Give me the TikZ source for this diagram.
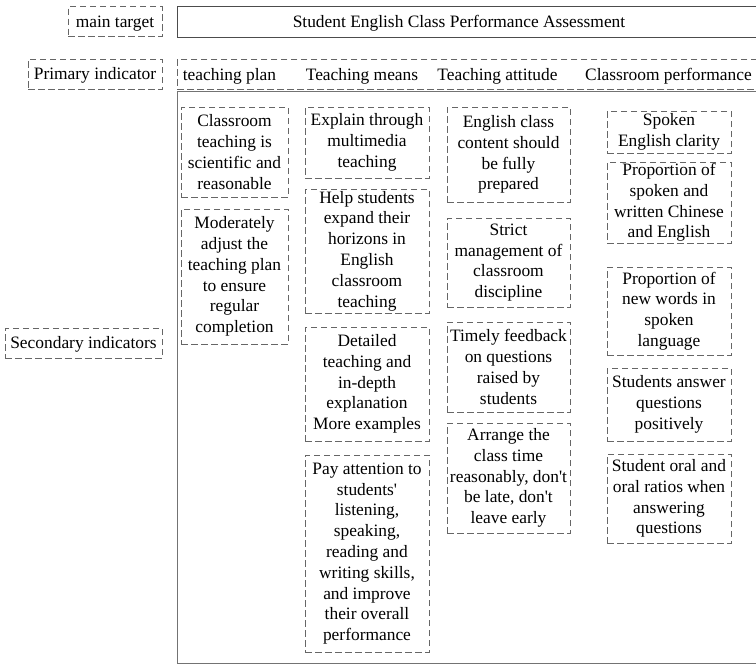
\documentclass[tikz,border=0pt]{standalone}
\usepackage{fontspec}
\setmainfont{Liberation Serif}

\begin{document}
\begin{tikzpicture}[
    x=1pt, y=-1pt,
    every node/.style={font=\fontsize{17.4}{20.8}\selectfont, inner sep=0pt, align=center},
    dashbox/.style={draw=black!60, dash pattern=on 6.5pt off 3.5pt, line width=0.8pt},
    oneline/.style={text height=13pt, text depth=2pt},
    tag/.style={dashbox, oneline, minimum height=30pt},
    colA/.style={dashbox, minimum width=107pt},
    colB/.style={dashbox, minimum width=124pt},
    colC/.style={dashbox, minimum width=123pt},
    colD/.style={dashbox, minimum width=124pt},
]
\useasboundingbox (0,0) rectangle (756,665);
\clip (0,0) rectangle (756,665);

% left column labels
\node[tag, minimum width=94pt] (goaltag) at (115,21.5) {main target};
\node[tag, minimum width=134pt] (primtag) at (95,74) {Primary indicator};
\node[tag, minimum width=157pt] (sectag) at (83.5,343) {Secondary indicators};

% main target
\node[draw=black!70, line width=0.9pt, minimum width=600pt, minimum height=31pt, anchor=north west] (goalbox) at (177,6) {};
\node[oneline] (goal) at (459,21.5) {Student English Class Performance Assessment};

% primary indicators
\node[dashbox, minimum width=600pt, minimum height=30pt, anchor=north west] (primbox) at (177,59) {};
\node[oneline] (plan) at (229.5,74.5) {teaching plan};
\node[oneline] (means) at (362,74.5) {Teaching means};
\node[oneline] (attitude) at (497.5,74.5) {Teaching attitude};
\node[oneline] (perf) at (668.5,74.5) {Classroom performance};

% secondary frame
\node[draw=black!55, line width=1pt, minimum width=600pt, minimum height=572pt, anchor=north west] (secframe) at (177,91) {};

% teaching plan
\node[colA, minimum height=90pt] (planA) at (234.5,152) {Classroom\\teaching is\\scientific and\\reasonable};
\node[colA, minimum height=135pt] (planB) at (234.5,276.5) {Moderately\\adjust the\\teaching plan\\to ensure\\regular\\completion};

% teaching means
\node[colB, minimum height=71pt] (meansA) at (367,142.5) {Explain through\\multimedia\\teaching};
\node[colB, minimum height=124pt] (meansB) at (367,251) {Help students\\expand their\\horizons in\\English\\classroom\\teaching};
\node[colB, minimum height=114pt] (meansC) at (367,384) {Detailed\\teaching and\\in-depth\\explanation\\More examples};
\node[colB, minimum height=197pt] (meansD) at (367,553.5) {Pay attention to\\students\textquotesingle\\listening,\\speaking,\\reading and\\writing skills,\\and improve\\their overall\\performance};

% teaching attitude
\node[colC, minimum height=95pt] (attA) at (508.5,154.5) {English class\\content should\\be fully\\prepared};
\node[colC, minimum height=89pt] (attB) at (508.5,262.5) {Strict\\management of\\classroom\\discipline};
\node[colC, minimum height=90pt] (attC) at (508.5,367) {Timely feedback\\on questions\\raised by\\students};
\node[colC, minimum height=110pt] (attD) at (508.5,478) {Arrange the\\class time\\reasonably, don\textquotesingle t\\be late, don\textquotesingle t\\leave early};

% classroom performance
\node[colD, minimum height=42pt] (perfA) at (669,132) {Spoken\\English clarity};
\node[colD, minimum height=81pt] (perfB) at (669,202.5) {Proportion of\\spoken and\\written Chinese\\and English};
\node[colD, minimum height=88pt] (perfC) at (669,311) {Proportion of\\new words in\\spoken\\language};
\node[colD, minimum height=73pt] (perfD) at (669,404.5) {Students answer\\questions\\positively};
\node[colD, minimum height=89pt] (perfE) at (669,498.5) {Student oral and\\oral ratios when\\answering\\questions};
\end{tikzpicture}
\end{document}
